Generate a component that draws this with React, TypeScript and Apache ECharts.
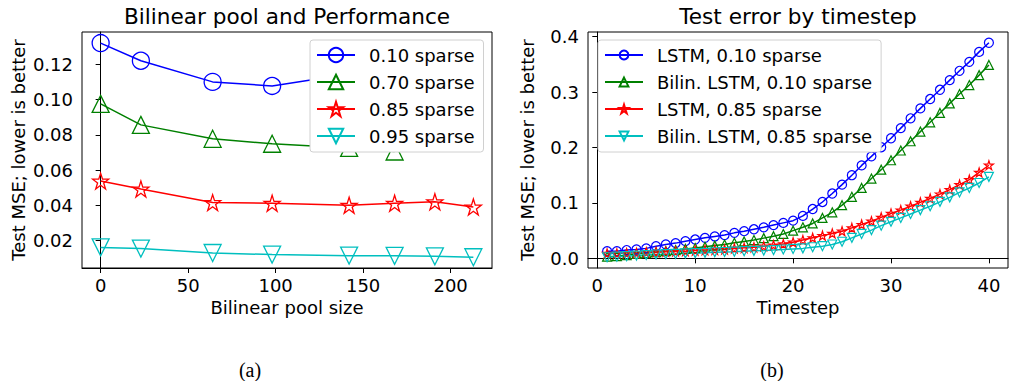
import React, { useEffect, useRef } from "react";
import * as echarts from "echarts";

// ---------- data ----------
const poolSizes = [0, 23, 64, 98, 142, 168, 191, 213];
const pool010 = [0.132, 0.122, 0.110, 0.1077, 0.1145, 0.1125];
const pool070 = [0.0975, 0.0856, 0.0777, 0.0749, 0.0725, 0.0705];
const pool085 = [0.0537, 0.0492, 0.0415, 0.0411, 0.0400, 0.0411, 0.0420, 0.0390];
const pool095 = [0.0161, 0.0154, 0.0129, 0.0120, 0.0114, 0.0113, 0.0110, 0.0105];

const timesteps = Array.from({ length: 40 }, (_, i) => i + 1);
const lstm010 = [0.013, 0.013, 0.015, 0.016, 0.018, 0.022, 0.025, 0.0275, 0.031, 0.034,
  0.037, 0.0395, 0.042, 0.046, 0.049, 0.0525, 0.056, 0.060, 0.064, 0.068,
  0.0766, 0.089, 0.1017, 0.117, 0.133, 0.150, 0.1677, 0.184, 0.2005, 0.2167,
  0.235, 0.2527, 0.2706, 0.2875, 0.3042, 0.3216, 0.3384, 0.3545, 0.3725, 0.389];
const bilin010 = [0.003, 0.004, 0.006, 0.008, 0.0095, 0.011, 0.013, 0.015, 0.017, 0.0185,
  0.021, 0.023, 0.025, 0.028, 0.0305, 0.033, 0.0365, 0.040, 0.044, 0.050,
  0.056, 0.063, 0.073, 0.083, 0.096, 0.111, 0.127, 0.144, 0.160, 0.177,
  0.1946, 0.2113, 0.2287, 0.2455, 0.2624, 0.2796, 0.2965, 0.3127, 0.3306, 0.349];
const lstm085 = [0.009, 0.009, 0.0095, 0.010, 0.011, 0.0115, 0.012, 0.0125, 0.013, 0.014,
  0.015, 0.0155, 0.016, 0.018, 0.019, 0.020, 0.022, 0.024, 0.026, 0.029,
  0.033, 0.037, 0.041, 0.045, 0.049, 0.055, 0.061, 0.067, 0.074, 0.081,
  0.087, 0.094, 0.101, 0.108, 0.116, 0.124, 0.133, 0.142, 0.155, 0.168];
const bilin085 = [0.002, 0.003, 0.004, 0.005, 0.006, 0.007, 0.0075, 0.008, 0.009, 0.0095,
  0.010, 0.011, 0.0115, 0.012, 0.013, 0.0135, 0.014, 0.015, 0.016, 0.017,
  0.018, 0.020, 0.022, 0.025, 0.030, 0.037, 0.044, 0.051, 0.059, 0.066,
  0.073, 0.080, 0.087, 0.094, 0.102, 0.110, 0.119, 0.127, 0.136, 0.147];

const leftNames = ["0.10 sparse", "0.70 sparse", "0.85 sparse", "0.95 sparse"];
const rightNames = ["LSTM, 0.10 sparse", "Bilin. LSTM, 0.10 sparse", "LSTM, 0.85 sparse", "Bilin. LSTM, 0.85 sparse"];
const leftYTicks = [0.02, 0.04, 0.06, 0.08, 0.1, 0.12];
const leftXTicks = [0, 50, 100, 150, 200];
const rightYTicks = [0, 0.1, 0.2, 0.3, 0.4];
const rightXTicks = [0, 10, 20, 30, 40];

const COLORS = ["#0000ff", "#008000", "#ff0000", "#00bfbf"];
const FONT = "DejaVu Sans";
const STAR = "path://M100 0 L122.45 69.1 L195.1 69.1 L136.3 111.8 L158.8 180.9 L100 138.2 L41.2 180.9 L63.7 111.8 L4.9 69.1 L77.55 69.1 Z";
const SYMBOLS = ["circle", "triangle", STAR, "triangle"];
const ROT = [0, 0, 0, 180];

function pairs(xs: number[], ys: number[]) {
  return ys.map((y, i) => [xs[i], y]);
}

export default function App() {
  const ref = useRef<HTMLDivElement>(null);
  useEffect(() => {
    document.body.style.margin = "0";
    const chart = echarts.init(ref.current!, undefined, { renderer: "svg" });
    const axisCommon = (ticks: number[], fmt: (v: number) => string, margin: number) => ({
      type: "value" as const,
      splitLine: { show: false },
      axisLine: { show: true, lineStyle: { color: "#000", width: 1 } },
      axisTick: { show: true, length: 5, inside: false, customValues: ticks, lineStyle: { color: "#000", width: 1 } },
      axisLabel: { customValues: ticks, formatter: fmt, margin, fontSize: 18, fontFamily: FONT, color: "#000" },
    });
    const leftData = [pool010, pool070, pool085, pool095];
    const rightData = [lstm010, bilin010, lstm085, bilin085];
    const series: any[] = [];
    leftData.forEach((d, i) => {
      series.push({
        type: "line", name: leftNames[i], xAxisIndex: 0, yAxisIndex: 0,
        data: pairs(poolSizes, d), symbol: SYMBOLS[i], symbolRotate: ROT[i],
        symbolSize: i === 2 ? 16 : 17, showAllSymbol: true,
        lineStyle: { color: COLORS[i], width: 1.5 },
        itemStyle: { color: "rgba(255,255,255,0)", borderColor: COLORS[i], borderWidth: 1.3 },
      });
    });
    rightData.forEach((d, i) => {
      series.push({
        type: "line", name: rightNames[i], xAxisIndex: 1, yAxisIndex: 1,
        data: pairs(timesteps, d), symbol: SYMBOLS[i], symbolRotate: ROT[i],
        symbolSize: 9, showAllSymbol: true,
        lineStyle: { color: COLORS[i], width: 1.5 },
        itemStyle: { color: "rgba(255,255,255,0)", borderColor: COLORS[i], borderWidth: 1.2 },
      });
    });
    const legendCommon = {
      orient: "vertical" as const,
      backgroundColor: "#fff",
      borderColor: "#d0d0d0",
      borderWidth: 1,
      borderRadius: 3,
      itemGap: 9,
      itemWidth: 38,
      padding: [6, 9, 7, 6],
      textStyle: { fontSize: 18, fontFamily: FONT, color: "#000", lineHeight: 18, padding: [0, 0, 0, 9] },
    };
    chart.setOption({
      animation: false,
      grid: [
        { left: 82, right: 520, top: 32, bottom: 113, show: true, borderColor: "#000", borderWidth: 1 },
        { left: 588, right: 4, top: 32, bottom: 113, show: true, borderColor: "#000", borderWidth: 1 },
      ],
      xAxis: [
        { ...axisCommon(leftXTicks, (v: number) => String(v), 8), gridIndex: 0, min: -10.65, max: 223.65 },
        { ...axisCommon(rightXTicks, (v: number) => String(v), 8), gridIndex: 1, min: -0.95, max: 41.95 },
      ],
      yAxis: [
        { ...axisCommon(leftYTicks, (v: number) => v.toFixed(2), 9), gridIndex: 0, min: 0.0044, max: 0.1383 },
        { ...axisCommon(rightYTicks, (v: number) => v.toFixed(1), 9), gridIndex: 1, min: -0.0174, max: 0.4084 },
      ],
      legend: [
        { ...legendCommon, data: leftNames, left: 310, top: 40, itemHeight: 18 },
        { ...legendCommon, data: rightNames, left: 598, top: 40, itemHeight: 11 },
      ],
      series,
      graphic: [
        { type: "text", x: 287, y: 16, style: { text: "Bilinear pool and Performance", font: `21.6px "${FONT}"`, fill: "#000", align: "center", verticalAlign: "middle" } },
        { type: "text", x: 798, y: 16, style: { text: "Test error by timestep", font: `21.6px "${FONT}"`, fill: "#000", align: "center", verticalAlign: "middle" } },
        { type: "text", x: 287, y: 307, style: { text: "Bilinear pool size", font: `18px "${FONT}"`, fill: "#000", align: "center", verticalAlign: "middle" } },
        { type: "text", x: 798, y: 307, style: { text: "Timestep", font: `18px "${FONT}"`, fill: "#000", align: "center", verticalAlign: "middle" } },
        { type: "text", x: 18, y: 150, rotation: Math.PI / 2, style: { text: "Test MSE; lower is better", font: `18px "${FONT}"`, fill: "#000", align: "center", verticalAlign: "middle" } },
        { type: "text", x: 527, y: 150, rotation: Math.PI / 2, style: { text: "Test MSE; lower is better", font: `18px "${FONT}"`, fill: "#000", align: "center", verticalAlign: "middle" } },
        { type: "text", x: 250, y: 370, style: { text: "(a)", font: `20px "Liberation Serif"`, fill: "#000", align: "center", verticalAlign: "middle" } },
        { type: "text", x: 772, y: 370, style: { text: "(b)", font: `20px "Liberation Serif"`, fill: "#000", align: "center", verticalAlign: "middle" } },
      ],
    });
    return () => chart.dispose();
  }, []);
  return <div ref={ref} style={{ width: 1012, height: 381 }} />;
}
